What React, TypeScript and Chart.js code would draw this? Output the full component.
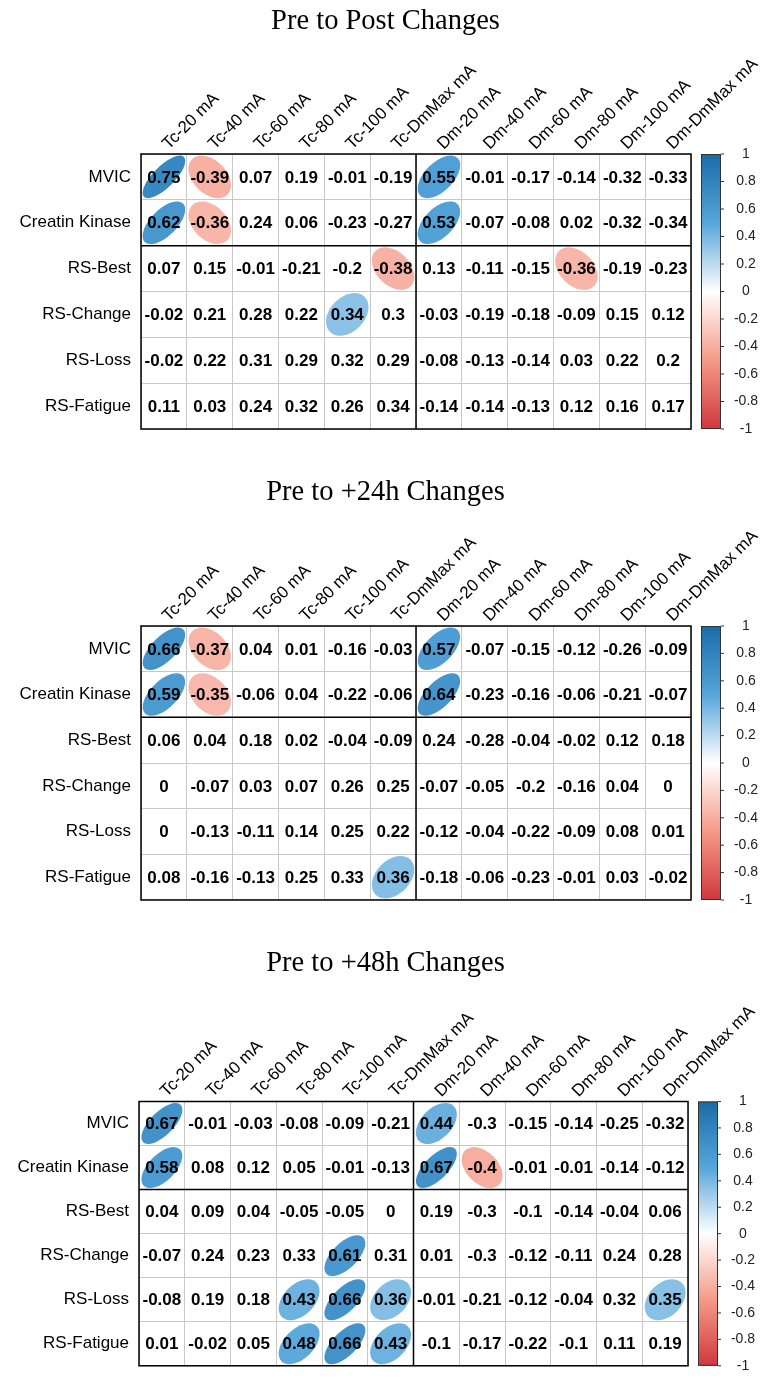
import React, { useEffect, useRef } from 'react';
import { Chart, registerables } from 'chart.js';

Chart.register(...registerables);

const columns = [
  'Tc-20 mA', 'Tc-40 mA', 'Tc-60 mA', 'Tc-80 mA', 'Tc-100 mA', 'Tc-DmMax mA',
  'Dm-20 mA', 'Dm-40 mA', 'Dm-60 mA', 'Dm-80 mA', 'Dm-100 mA', 'Dm-DmMax mA',
];
const rows = ['MVIC', 'Creatin Kinase', 'RS-Best', 'RS-Change', 'RS-Loss', 'RS-Fatigue'];

const titles = ['Pre to Post Changes', 'Pre to +24h Changes', 'Pre to +48h Changes'];

const postValues = [
  [0.75, -0.39, 0.07, 0.19, -0.01, -0.19, 0.55, -0.01, -0.17, -0.14, -0.32, -0.33],
  [0.62, -0.36, 0.24, 0.06, -0.23, -0.27, 0.53, -0.07, -0.08, 0.02, -0.32, -0.34],
  [0.07, 0.15, -0.01, -0.21, -0.2, -0.38, 0.13, -0.11, -0.15, -0.36, -0.19, -0.23],
  [-0.02, 0.21, 0.28, 0.22, 0.34, 0.3, -0.03, -0.19, -0.18, -0.09, 0.15, 0.12],
  [-0.02, 0.22, 0.31, 0.29, 0.32, 0.29, -0.08, -0.13, -0.14, 0.03, 0.22, 0.2],
  [0.11, 0.03, 0.24, 0.32, 0.26, 0.34, -0.14, -0.14, -0.13, 0.12, 0.16, 0.17],
];
const postSignificant = [
  [1, 1, 0, 0, 0, 0, 1, 0, 0, 0, 0, 0],
  [1, 1, 0, 0, 0, 0, 1, 0, 0, 0, 0, 0],
  [0, 0, 0, 0, 0, 1, 0, 0, 0, 1, 0, 0],
  [0, 0, 0, 0, 1, 0, 0, 0, 0, 0, 0, 0],
  [0, 0, 0, 0, 0, 0, 0, 0, 0, 0, 0, 0],
  [0, 0, 0, 0, 0, 0, 0, 0, 0, 0, 0, 0],
];

const h24Values = [
  [0.66, -0.37, 0.04, 0.01, -0.16, -0.03, 0.57, -0.07, -0.15, -0.12, -0.26, -0.09],
  [0.59, -0.35, -0.06, 0.04, -0.22, -0.06, 0.64, -0.23, -0.16, -0.06, -0.21, -0.07],
  [0.06, 0.04, 0.18, 0.02, -0.04, -0.09, 0.24, -0.28, -0.04, -0.02, 0.12, 0.18],
  [0, -0.07, 0.03, 0.07, 0.26, 0.25, -0.07, -0.05, -0.2, -0.16, 0.04, 0],
  [0, -0.13, -0.11, 0.14, 0.25, 0.22, -0.12, -0.04, -0.22, -0.09, 0.08, 0.01],
  [0.08, -0.16, -0.13, 0.25, 0.33, 0.36, -0.18, -0.06, -0.23, -0.01, 0.03, -0.02],
];
const h24Significant = [
  [1, 1, 0, 0, 0, 0, 1, 0, 0, 0, 0, 0],
  [1, 1, 0, 0, 0, 0, 1, 0, 0, 0, 0, 0],
  [0, 0, 0, 0, 0, 0, 0, 0, 0, 0, 0, 0],
  [0, 0, 0, 0, 0, 0, 0, 0, 0, 0, 0, 0],
  [0, 0, 0, 0, 0, 0, 0, 0, 0, 0, 0, 0],
  [0, 0, 0, 0, 0, 1, 0, 0, 0, 0, 0, 0],
];

const h48Values = [
  [0.67, -0.01, -0.03, -0.08, -0.09, -0.21, 0.44, -0.3, -0.15, -0.14, -0.25, -0.32],
  [0.58, 0.08, 0.12, 0.05, -0.01, -0.13, 0.67, -0.4, -0.01, -0.01, -0.14, -0.12],
  [0.04, 0.09, 0.04, -0.05, -0.05, 0, 0.19, -0.3, -0.1, -0.14, -0.04, 0.06],
  [-0.07, 0.24, 0.23, 0.33, 0.61, 0.31, 0.01, -0.3, -0.12, -0.11, 0.24, 0.28],
  [-0.08, 0.19, 0.18, 0.43, 0.66, 0.36, -0.01, -0.21, -0.12, -0.04, 0.32, 0.35],
  [0.01, -0.02, 0.05, 0.48, 0.66, 0.43, -0.1, -0.17, -0.22, -0.1, 0.11, 0.19],
];
const h48Significant = [
  [1, 0, 0, 0, 0, 0, 1, 0, 0, 0, 0, 0],
  [1, 0, 0, 0, 0, 0, 1, 1, 0, 0, 0, 0],
  [0, 0, 0, 0, 0, 0, 0, 0, 0, 0, 0, 0],
  [0, 0, 0, 0, 1, 0, 0, 0, 0, 0, 0, 0],
  [0, 0, 0, 1, 1, 1, 0, 0, 0, 0, 0, 1],
  [0, 0, 0, 1, 1, 1, 0, 0, 0, 0, 0, 0],
];

const colorbarTicks = [1, 0.8, 0.6, 0.4, 0.2, 0, -0.2, -0.4, -0.6, -0.8, -1];

// palette (style)
const paletteStops: [number, string][] = [
  [-1, '#D0373E'],
  [-0.5, '#F59A88'],
  [0, '#FFFFFF'],
  [0.5, '#56A5DB'],
  [1, '#1A6BA6'],
];

function hexToRgb(h: string) {
  const n = parseInt(h.slice(1), 16);
  return [(n >> 16) & 255, (n >> 8) & 255, n & 255];
}
function colorFor(v: number) {
  for (let i = 0; i < paletteStops.length - 1; i++) {
    const [a, ca] = paletteStops[i];
    const [b, cb] = paletteStops[i + 1];
    if (v >= a && v <= b) {
      const t = (v - a) / (b - a);
      const A = hexToRgb(ca);
      const B = hexToRgb(cb);
      const c = A.map((x, k) => Math.round(x + (B[k] - x) * t));
      return `rgb(${c[0]},${c[1]},${c[2]})`;
    }
  }
  return v < 0 ? paletteStops[0][1] : paletteStops[paletteStops.length - 1][1];
}

const TITLE_FONT_SIZE = 28.5;
const TITLE_PAD_TOP = 4;
const TITLE_H = TITLE_FONT_SIZE * 1.2 + TITLE_PAD_TOP;
const LABEL_FONT = 'Liberation Sans';

const corrPlugin = {
  id: 'corrDraw',
  afterDatasetsDraw(chart: any) {
    const ctx = chart.ctx;
    const xs = chart.scales.x;
    const ys = chart.scales.y;
    const cbs = chart.scales.cb;
    const area = chart.chartArea;
    const cw = Math.abs(xs.getPixelForValue(1) - xs.getPixelForValue(0));
    const ch = Math.abs(ys.getPixelForValue(1) - ys.getPixelForValue(0));
    const cell = Math.min(cw, ch);
    const K = 0.93;
    const meta = chart.getDatasetMeta(0);
    const raw = chart.data.datasets[0].data;
    ctx.save();
    // ellipses
    meta.data.forEach((pt: any, i: number) => {
      const d = raw[i];
      if (!d.s) return;
      const a = Math.acos(Math.max(-1, Math.min(1, d.v))) / 2;
      const r1 = (Math.cos(a) / Math.SQRT2) * cell * K;
      const r2 = (Math.sin(a) / Math.SQRT2) * cell * K;
      ctx.beginPath();
      ctx.ellipse(pt.x, pt.y, r1, r2, -Math.PI / 4, 0, Math.PI * 2);
      ctx.fillStyle = colorFor(d.v);
      ctx.fill();
    });
    // numbers
    ctx.fillStyle = '#000';
    ctx.textAlign = 'center';
    ctx.textBaseline = 'middle';
    ctx.font = `bold 17px "${LABEL_FONT}"`;
    meta.data.forEach((pt: any, i: number) => {
      const d = raw[i];
      ctx.fillText(String(d.v), pt.x, pt.y + 1);
    });
    // dividers
    ctx.strokeStyle = '#000';
    ctx.lineWidth = 1.5;
    const xDiv = (xs.getPixelForValue(5) + xs.getPixelForValue(6)) / 2;
    const yDiv = (ys.getPixelForValue(1) + ys.getPixelForValue(2)) / 2;
    ctx.beginPath();
    ctx.moveTo(xDiv, area.top);
    ctx.lineTo(xDiv, area.bottom);
    ctx.moveTo(area.left, yDiv);
    ctx.lineTo(area.right, yDiv);
    ctx.stroke();
    ctx.strokeRect(area.left, area.top, area.right - area.left, area.bottom - area.top);

    // colorbar
    const bx = area.right + 10;
    const bw = 20;
    const top = cbs.getPixelForValue(1);
    const bottom = cbs.getPixelForValue(-1);
    const grad = ctx.createLinearGradient(0, top, 0, bottom);
    for (let k = 0; k <= 40; k++) {
      const v = 1 - k / 20;
      grad.addColorStop(k / 40, colorFor(v));
    }
    ctx.fillStyle = grad;
    ctx.fillRect(bx, top, bw, bottom - top);
    ctx.strokeStyle = '#333';
    ctx.lineWidth = 1;
    ctx.strokeRect(bx + 0.5, top + 0.5, bw - 1, bottom - top - 1);
    ctx.font = `14px "${LABEL_FONT}"`;
    ctx.fillStyle = '#222';
    ctx.textAlign = 'center';
    ctx.textBaseline = 'middle';
    colorbarTicks.forEach((t) => {
      const y = cbs.getPixelForValue(t);
      ctx.beginPath();
      ctx.moveTo(bx + bw, y);
      ctx.lineTo(bx + bw + 3, y);
      ctx.stroke();
      ctx.fillText(String(t), bx + bw + 25, y);
    });
    ctx.restore();
  },
};

type Layout = {
  top: number;
  height: number;
  gridTop: number;
  gridBottom: number;
  gridLeft: number;
  gridRight: number;
};

const WIDTH = 771;

function Panel({ title, values, significant, layout }: { title: string; values: number[][]; significant: number[][]; layout: Layout }) {
  const ref = useRef<HTMLCanvasElement>(null);
  useEffect(() => {
    const { height, gridTop, gridBottom, gridLeft, gridRight } = layout;
    const data: any[] = [];
    rows.forEach((rn, r) =>
      columns.forEach((cn, c) => data.push({ x: cn, y: rn, v: values[r][c], s: significant[r][c] }))
    );
    const gridOpts = { offset: true, color: '#c8c8c8', lineWidth: 1, drawTicks: false };
    const chart = new Chart(ref.current as HTMLCanvasElement, {
      type: 'scatter',
      data: {
        datasets: [{ data, pointRadius: 0, pointHoverRadius: 0, pointHitRadius: 0 } as any],
      },
      options: {
        responsive: false,
        animation: false,
        events: [],
        layout: { padding: { left: 0, top: 0, right: 0, bottom: height - gridBottom } },
        plugins: {
          legend: { display: false },
          tooltip: { enabled: false },
          title: {
            display: true,
            text: title,
            color: '#000',
            font: { family: 'Liberation Serif', size: TITLE_FONT_SIZE, weight: 'normal' as any },
            padding: { top: TITLE_PAD_TOP, bottom: 0 },
          },
        },
        scales: {
          x: {
            type: 'category',
            labels: columns,
            position: 'top',
            offset: true,
            grid: gridOpts,
            border: { display: false },
            ticks: {
              minRotation: 45,
              maxRotation: 45,
              autoSkip: false,
              padding: 0,
              labelOffset: 16,
              color: '#000',
              font: { family: LABEL_FONT, size: 17 },
            },
            afterFit: (s: any) => {
              s.height = gridTop - TITLE_H;
            },
          } as any,
          y: {
            type: 'category',
            labels: rows,
            position: 'left',
            offset: true,
            grid: gridOpts,
            border: { display: false },
            ticks: {
              autoSkip: false,
              padding: 10,
              color: '#000',
              font: { family: LABEL_FONT, size: 17 },
            },
            afterFit: (s: any) => {
              s.width = gridLeft;
            },
          } as any,
          cb: {
            type: 'linear',
            position: 'right',
            min: -1,
            max: 1,
            grid: { display: false, drawTicks: false },
            border: { display: false },
            ticks: { display: false },
            afterFit: (s: any) => {
              s.width = WIDTH - gridRight;
            },
          } as any,
        },
      },
      plugins: [corrPlugin],
    });
    return () => chart.destroy();
  }, []);
  return (
    <canvas
      ref={ref}
      width={WIDTH}
      height={layout.height}
      style={{ position: 'absolute', left: 0, top: layout.top, width: WIDTH, height: layout.height }}
    />
  );
}

const layouts: Layout[] = [
  { top: 0, height: 462, gridTop: 154, gridBottom: 429, gridLeft: 141, gridRight: 691 },
  { top: 471, height: 462, gridTop: 155, gridBottom: 429, gridLeft: 141, gridRight: 691 },
  { top: 942, height: 444, gridTop: 159.5, gridBottom: 430, gridLeft: 139, gridRight: 688 },
];

export default function App() {
  return (
    <div style={{ position: 'absolute', left: 0, top: 0, width: WIDTH, height: 1386, background: '#fff' }}>
      <Panel title={titles[0]} values={postValues} significant={postSignificant} layout={layouts[0]} />
      <Panel title={titles[1]} values={h24Values} significant={h24Significant} layout={layouts[1]} />
      <Panel title={titles[2]} values={h48Values} significant={h48Significant} layout={layouts[2]} />
    </div>
  );
}
